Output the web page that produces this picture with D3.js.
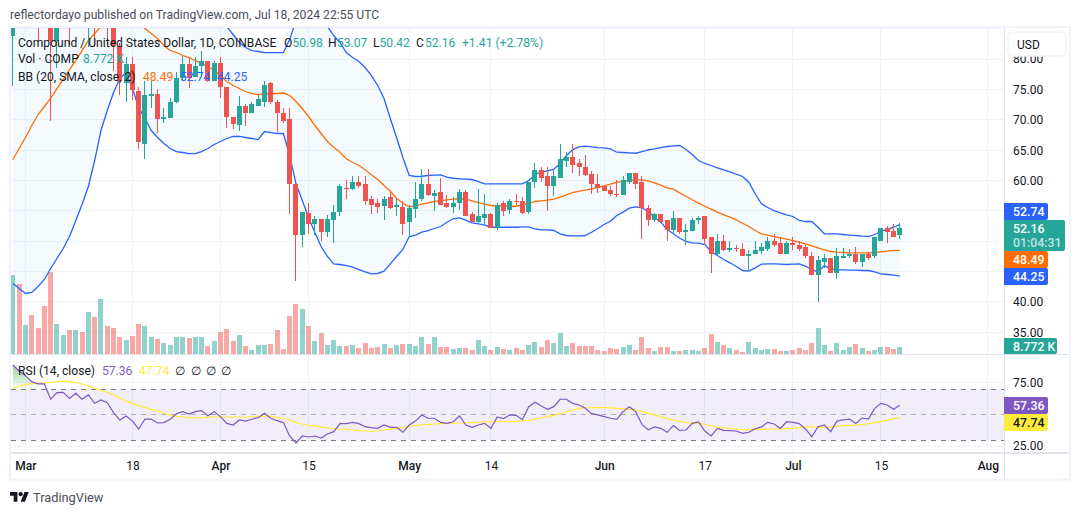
<!DOCTYPE html>
<html>
<head>
<meta charset="utf-8">
<title>Compound / United States Dollar</title>
<script src="https://cdn.jsdelivr.net/npm/d3@7/dist/d3.min.js"></script>
<style>
html,body{margin:0;padding:0;background:#fff;overflow:hidden}
svg{display:block}
text{font-family:Roboto,"Liberation Sans",sans-serif;fill:#131722}
</style>
</head>
<body>
<svg id="chart" width="1080" height="515"></svg>
<script>
// Daily COMP/USD candles, first session 28 Feb 2024, last 18 Jul 2024.
const opens = [
83.89,90,87,95,91,87,92,83.07,92,95,
90,93,90,96,91,101,95,82.13,75.99,79.12,
74.83,66.1,74.01,74.34,70.1,70.34,72.91,76.93,79.12,77.14,
78.79,79.77,76.37,79.33,75.49,70.55,69.23,72.2,71.09,72.36,
73.02,76.04,72.86,71.16,70.06,59.46,50.95,54.73,52.76,53.7,
51.6,53.58,54.78,58.85,58.64,59.68,59.35,56.88,56.22,55.77,
57.21,55.72,55.72,53.09,55.39,56.88,59.35,57.53,58.19,56.22,
55.72,56.22,58.19,54.41,53.09,53.91,54.41,52.26,56.22,55.23,
56.71,56.71,54.9,59.68,61.82,60.67,59.02,60.34,63.3,63.8,
62.81,62.31,61.16,59.35,59.02,58.52,57.86,57.7,59.84,61.32,
59.68,55.56,53.42,54.41,53.42,51.93,53.75,51.6,51.77,53.42,
54.08,50.78,47.82,49.96,48.64,48.97,48.8,47.49,47.82,48.47,
48.8,50.12,49.63,47.98,49.63,49.3,49.13,47.65,44.52,46.66,
47.32,44.85,47.32,47.49,47.98,46.5,47.98,47.49,50.12,52.26,
51.77,50.98];
const highs = [
88,92,97,98,96,92,95,94,100,98,
97,96,100,99,105,103,97,82.6,80.43,80.43,
75.33,76.48,76.32,75.16,72.03,73.52,77.85,80.6,80.22,80.32,
81.42,79.77,79.66,80.32,75.49,70.55,74.01,72.53,72.91,74.13,
76.32,76.2,73.19,71.98,71.98,59.46,54.9,56.33,54.24,53.7,
54.4,56.05,59.35,60.01,60.83,60.83,60.83,57.53,56.99,57.53,
58.24,56.88,56.71,55.89,59.84,61.98,61.98,58.52,60.34,57.7,
57.37,58.69,58.52,54.9,58.69,57.86,54.73,56.22,56.55,57.04,
57.86,57.21,59.84,62.97,62.31,62.15,61.82,65.94,64.78,65.94,
63.63,64.13,61.65,61.16,59.18,59.02,60.01,60.67,61.32,61.32,
60.67,56.05,54.73,54.57,53.58,55.06,53.91,52.92,53.91,54.24,
54.24,50.78,51.27,50.95,49.96,49.3,49.63,48.64,50.12,49.63,
50.62,51.27,50.78,49.96,50.78,49.96,49.3,48.31,47.65,47.82,
47.32,48.97,48.97,48.8,49.13,47.98,48.15,50.62,52.26,52.43,
52.92,53.07];
const lows = [
75.54,86,86,90,83,85.6,69.78,78.62,88,82.25,
86,85.05,81.92,81.92,87,81.92,78.13,74.17,72.86,73.19,
65.28,63.63,71.87,67.91,69.56,70.34,72.74,76.48,75.21,77.03,
77.03,76.2,76.37,73.63,68.62,68.52,68.13,68.95,71.09,72.36,
72.08,72.53,67.96,69.51,54.52,43.42,49.02,51.23,50.95,50.01,
50.67,49.68,54.24,56.99,58.47,58.74,55.89,54.52,54.62,53.58,
55.34,54.24,50.95,50.78,53.75,56.71,57.53,55.06,56.05,55.51,
54.73,55.23,54.08,53.09,53.04,52.59,52.26,51.93,54.24,54.57,
55.89,54.41,54.41,58.85,59.68,55.06,57.53,60.34,62.15,61.32,
60.67,60.83,57.86,58.03,58.36,57.53,57.37,57.7,59.35,58.69,
50.45,52.59,53.09,53.09,49.96,51.27,51.27,49.46,51.77,52.76,
49.3,44.85,47.65,48.47,48.15,48.15,47.49,45.02,47.82,47.98,
48.47,49.13,47.98,47.82,48.64,48.47,47.16,44.36,40.07,45.67,
44.69,43.7,47.16,47.16,46.33,45.84,46.99,47.32,50.12,49.63,
50.62,50.42];
const closes = [
86.37,87,95,91,87,86.5,83.07,92,95,90,
93,90,96,91,101,95,82.13,76.32,79.28,74.92,
66.43,74.17,74.29,70.17,70.55,72.86,76.93,79.12,76.93,78.95,
79.77,76.37,79.33,75.49,70.43,69.28,72.31,71.09,72.53,73.4,
75.82,72.91,71.09,69.89,59.46,50.95,54.9,52.76,53.7,51.6,
53.7,54.9,59.02,58.69,59.68,59.18,56.6,55.89,55.72,57.04,
55.51,55.89,52.92,55.56,57.04,59.35,57.7,58.03,56.05,55.72,
56.38,58.19,54.24,53.09,54.08,54.57,52.26,56.05,55.06,56.71,
56.55,54.73,59.84,61.82,60.5,59.18,60.67,63.63,63.8,62.64,
62.15,60.99,59.35,58.85,58.36,57.86,57.75,60.01,61.32,59.51,
55.56,53.42,54.41,53.25,51.93,53.91,51.6,51.93,53.58,53.91,
50.45,47.82,50.12,48.64,48.97,48.8,47.49,47.98,48.64,49.13,
50.12,49.3,47.98,49.63,49.3,48.8,47.49,44.52,46.83,47.32,
44.69,47.49,47.65,47.98,46.5,47.98,47.32,50.62,52.26,51.6,
50.62,52.16];

// Traded volume per session, in thousands of COMP.
const volumes = [
98.75,87.5,36.25,48.75,32.5,60,102.5,37.5,23.75,30,
30,27.5,52.5,46.25,68.75,35,32.5,21.25,17.5,22.5,
37.5,35,21.25,18.75,13.75,11.25,21.25,21.25,20,21.25,
21.25,10,16.25,27.5,31.25,16.25,23.75,10,5,11.25,
11.25,12.5,30,6.25,47.5,62.5,56.25,35,16.25,26.25,
11.25,17.5,10,10,11.25,7.5,13.75,7.5,8.75,12.5,
7.5,11.25,12.5,12.5,10,21.25,12.5,21.25,8.75,8.75,
6.25,7.5,7.5,5,17.5,10,5,8.75,6.25,5,
7.5,5,11.25,15,8.75,17.5,13.75,26.25,10,13.75,
10,10,10,5,3.75,7.5,6.25,8.75,11.25,5,
21.25,7.5,3.75,8.75,8.75,3.75,3.75,5,5,3.75,
7.5,25,15,11.25,7.5,5,2.5,15,7.5,5,
6.25,6.25,3.75,3.75,5,7.5,5,13.75,32.5,11.25,
3.75,13.75,5,8.75,12.5,7.5,3.75,5,8.75,8.75,
6.25,8.772];

// Bollinger bands (20, 2).
const bbUpper = [
84.88,88.01,90.48,92.95,95.43,97.9,99.54,101.19,102.02,102.84,
103.66,104.49,104.49,104.49,104.16,103.66,103.66,103.66,103.66,102.84,
101.19,99.54,97.9,96.25,94.93,93.78,92.95,92.13,91.31,90.48,
89.66,88.84,87.68,86.37,85.38,84.06,82.74,81.92,81.42,81.26,
81.09,81.09,81.09,81.09,83.24,86.37,88.84,88.84,89.66,88.84,
85.38,83.89,82.74,81.09,80.27,79.61,78.62,77.3,75.66,73.52,
70.22,67.09,63.8,60.83,60.67,60.71,60.83,60.88,60.95,60.55,
60.38,60.29,60.22,60.17,59.84,59.46,59.46,59.46,59.46,59.46,
59.46,59.46,60.01,60.95,61.44,61.6,61.87,62.86,64.13,65.11,
65.56,65.66,65.56,65.44,65.39,65.23,64.67,64.62,64.57,64.5,
64.78,65.06,65.23,65.44,65.61,65.72,65.77,65.11,64.29,63.3,
62.81,62.48,62.1,61.77,61.44,61.04,60.67,59.73,57.82,56.17,
55.56,55.06,54.69,54.36,54.08,53.42,53.25,53.25,52.31,51.23,
51.23,51.23,51.11,51,50.95,50.83,50.78,51.11,51.65,51.93,
52.31,52.74];
const bbBasis = [
63.47,65.28,67.09,69.07,70.88,72.2,73.52,75.16,76.65,78.29,
79.77,81.42,83.07,84.22,85.38,86.37,87.35,88.01,88.34,88.01,
85.87,85.05,84.22,83.4,82.25,81.42,81.09,80.6,80.27,79.77,
79.28,78.79,78.13,77.3,76.32,75.66,75.16,74.67,74.34,74.17,
74.26,74.34,74.34,74.42,74.01,73.02,71.87,70.55,69.07,67.75,
66.43,65.49,64.67,63.58,63.02,62.48,61.77,60.95,60.17,59.18,
58.24,57.09,56.27,55.67,55.84,56.1,56.33,56.55,56.71,56.83,
56.93,57,56.93,56.66,56.38,56.1,55.89,55.84,55.84,55.77,
55.77,55.94,56.22,56.55,56.66,56.76,56.93,57.26,57.65,58.03,
58.24,58.41,58.57,58.9,59.13,59.4,59.73,59.84,60.01,60.12,
60.12,59.96,59.63,59.23,58.8,58.57,57.98,57.42,56.83,56.27,
55.77,55.28,54.79,54.36,53.96,53.53,52.97,52.43,51.77,51.23,
51,50.78,50.57,50.34,50.12,49.84,49.58,49.25,48.92,48.59,
48.31,48.2,48.15,48.1,48.1,48.1,48.1,48.15,48.26,48.36,
48.47,48.49];
const bbLower = [
43.04,42.21,41.39,41.56,42.54,43.7,45.51,47.16,48.8,50.78,
53.42,56.05,59.02,63.3,68.24,71.54,74.5,76.81,77.8,75.16,
72.03,70.22,68.24,67.09,66.1,65.28,64.78,64.62,64.45,64.45,
64.78,65.28,65.94,66.43,66.93,67.26,67.26,67.09,66.93,66.76,
68.08,67.91,67.75,67.75,64.13,59.51,56.71,53.91,51.44,49.13,
47.49,46.28,46.17,46,45.72,45.34,44.97,44.64,44.69,45.07,
46.28,47.49,48.64,50.78,51,51.49,51.77,52.1,52.43,53.14,
53.7,53.86,53.47,53.04,52.87,52.64,52.31,52.31,52.31,52.31,
52.31,52.38,52.38,52.05,51.88,51.88,51.77,51.23,50.95,50.9,
50.9,50.95,51.49,52.1,52.76,53.3,54.24,54.79,55.44,55.67,
55.51,54.9,53.96,53.14,51.93,51.23,50.5,49.96,49.74,49.68,
49.46,48.31,47.65,46.99,46.45,45.84,45.18,45.07,45.62,46.22,
46.28,46.28,46.22,46.17,46.22,46.28,45.89,45.34,44.9,45.99,
45.46,45.3,45.3,45.23,45.23,45.18,45.18,44.97,44.64,44.52,
44.41,44.25];

// RSI (14, close) and its moving average.
const rsiValues = [
89,84.3,80.6,75.9,74.1,74.1,62.1,67.3,67.5,62.8,
66.8,62.1,65.5,58.9,61.5,59.4,51.6,45.9,49,45,
38.8,46.6,46.6,43.5,43.8,46.4,50.8,52.4,50.5,52.4,
53.2,49.2,52.4,48.5,43.2,41.9,45.9,45,46.4,47.7,
51.1,47.2,45.3,43.8,33.3,27.8,33.3,32.5,33.3,31.7,
34.9,36.7,43,43,44,43,40.6,39.8,39.3,41.9,
40.1,40.1,36.2,41.9,45,49.8,47.2,47.2,44,43.2,
44.5,49,41.9,40.1,41.9,43.2,39.3,48.2,46.9,49.8,
49.5,46.1,56.3,59.7,56.8,54.2,56.3,62.1,62.1,58.9,
57.6,55,50.8,49.8,48.5,47.2,46.4,52.4,56.3,52.4,
42.4,38.2,40.4,39.3,36.2,41.4,37.7,38,43.2,44.3,
37.2,33.3,39.3,37.7,37.5,37.2,35.4,36.2,39,40.4,
44,42.7,39.3,44.5,44,43,38.8,32.8,40.6,41.9,
36.7,45,45.9,46.6,43.2,47.4,46.6,55,58.9,57.6,
54.2,57.36];
const rsiMa = [
70.7,72.3,73.8,74.3,74.6,74.9,75.1,75.9,76.4,75.9,
75.1,74.1,72.5,70.7,69.1,67.5,65.5,63.1,60.8,58.9,
57.1,55.8,54.2,52.9,51.3,49.8,48.7,48.2,47.7,47.4,
47.7,47.9,48.2,48.2,48.2,48.2,48.2,48.2,48.5,48.7,
49,48.7,47.9,47.2,45.9,44,42.7,41.7,41.2,40.4,
39.6,39,38.8,38.5,38,37.5,37.2,36.9,37.2,38,
38.8,39.3,39.8,40.9,41.4,42.2,42.4,42.7,43,43.2,
43.2,43.5,43.5,43.8,44,44.3,44.5,44.8,44.8,44.8,
44.8,45.1,45.6,46.6,47.4,48.5,49.5,50.8,52.1,53.4,
54.7,55.5,55.5,55.5,55.5,55.3,55,54.7,54.2,53.7,
52.6,51.1,49.8,48.5,46.9,45.9,44.8,44,43.2,43.2,
42.4,41.2,40.1,39.6,39.3,38.8,38.3,38.3,38.5,38.5,
38.5,38.8,38.8,39,39.3,39.8,40.4,40.4,40.1,40.1,
40.4,40.9,41.4,41.7,41.9,42.2,43,43.8,44.8,45.6,
46.9,47.74];

const priceTicks = [35,40,60,65,70,75,80];
const priceGrid = [35,40,45,50,55,60,65,70,75,80,85];
const rsiTicks = [75,25];
const timeTicks = [
  ["2024-03-01","Mar"],["2024-03-18","18"],["2024-04-01","Apr"],["2024-04-15","15"],
  ["2024-05-01","May"],["2024-05-14","14"],["2024-06-01","Jun"],["2024-06-17","17"],
  ["2024-07-01","Jul"],["2024-07-15","15"],["2024-08-01","Aug"]
];

const UP = "#26a69a", DOWN = "#ef5350", BLUE = "#2962ff", ORANGE = "#ff6d00",
      PURPLE = "#7e57c2", YELLOW = "#ffeb3b", GRID = "#f0f3fa", LINE = "#e0e3eb", INK = "#131722";

const dates = d3.utcDay.range(new Date(Date.UTC(2024,1,28)), new Date(Date.UTC(2024,6,19)));
const bars = dates.map((date,i)=>({date,o:opens[i],h:highs[i],l:lows[i],c:closes[i],v:volumes[i],
  up:bbUpper[i],mid:bbBasis[i],low:bbLower[i],rsi:rsiValues[i],ma:rsiMa[i]}));

// Pane layout
const left = 11, right = 1004, mainTop = 28, mainBottom = 354, rsiTop = 355, rsiBottom = 452, timeBottom = 479;

const x = d3.scaleUtc().domain([dates[0], new Date(Date.UTC(2024,7,1))]).range([12.9, 987.9]);
const y = d3.scaleLinear().domain([35,75]).range([332.3,89.5]);
const yVol = d3.scaleLinear().domain([0,102.5]).range([354,272]);
const yRsi = d3.scaleLinear().domain([30,70]).range([440.2,389.2]);
const px = v => Math.floor(v);

const svg = d3.select("#chart");
const defs = svg.append("defs");
defs.append("clipPath").attr("id","clip-main").append("rect")
  .attr("x",left).attr("y",mainTop).attr("width",right-left).attr("height",mainBottom-mainTop);
defs.append("clipPath").attr("id","clip-rsi").append("rect")
  .attr("x",left).attr("y",rsiTop).attr("width",right-left).attr("height",rsiBottom-rsiTop);
defs.append("clipPath").attr("id","clip-ob").append("rect")
  .attr("x",left).attr("y",rsiTop).attr("width",right-left).attr("height",yRsi(70)-rsiTop);
defs.append("clipPath").attr("id","clip-os").append("rect")
  .attr("x",left).attr("y",yRsi(30)).attr("width",right-left).attr("height",rsiBottom-yRsi(30));
const gradOb = defs.append("linearGradient").attr("id","grad-ob").attr("gradientUnits","userSpaceOnUse")
  .attr("x1",0).attr("x2",0).attr("y1",yRsi(90)).attr("y2",yRsi(70));
gradOb.append("stop").attr("offset",0).attr("stop-color","#4caf50").attr("stop-opacity",0.6);
gradOb.append("stop").attr("offset",1).attr("stop-color","#4caf50").attr("stop-opacity",0);
const gradOs = defs.append("linearGradient").attr("id","grad-os").attr("gradientUnits","userSpaceOnUse")
  .attr("x1",0).attr("x2",0).attr("y1",yRsi(30)).attr("y2",yRsi(20));
gradOs.append("stop").attr("offset",0).attr("stop-color","#f23645").attr("stop-opacity",0);
gradOs.append("stop").attr("offset",1).attr("stop-color","#f23645").attr("stop-opacity",0.6);

// Header line
svg.append("text").attr("x",10).attr("y",19).attr("font-size",12.15).style("fill","#4a4e5a")
  .text("reflectordayo published on TradingView.com, Jul 18, 2024 22:55 UTC");

// Outer frame
svg.append("rect").attr("x",10).attr("y",27).attr("width",1060).attr("height",452.5)
  .attr("fill","#fff").attr("stroke",GRID).attr("stroke-width",2);

// Grid for both panes
const gridV = svg.append("g").attr("shape-rendering","crispEdges");
timeTicks.forEach(([d])=>{
  const gx = px(x(new Date(d+"T00:00:00Z")))+0.5;
  gridV.append("line").attr("x1",gx).attr("x2",gx).attr("y1",mainTop).attr("y2",rsiBottom).attr("stroke",GRID);
});
priceGrid.forEach(p=>{
  const gy = px(y(p))+0.5;
  gridV.append("line").attr("x1",left).attr("x2",right).attr("y1",gy).attr("y2",gy).attr("stroke",GRID);
});
rsiTicks.forEach(r=>{
  const gy = px(yRsi(r))+0.5;
  gridV.append("line").attr("x1",left).attr("x2",right).attr("y1",gy).attr("y2",gy).attr("stroke",GRID);
});

// Main pane: volume, bands, candles
const main = svg.append("g").attr("clip-path","url(#clip-main)");
main.append("g").attr("shape-rendering","crispEdges").selectAll("rect").data(bars).join("rect")
  .attr("x",d=>px(x(d.date))-2).attr("width",5)
  .attr("y",d=>Math.round(yVol(d.v))).attr("height",d=>mainBottom-Math.round(yVol(d.v)))
  .attr("fill",d=>d.c>=d.o?UP:DOWN).attr("fill-opacity",0.5);

main.append("path").datum(bars).attr("fill","#2196f3").attr("fill-opacity",0.05)
  .attr("d",d3.area().x(d=>x(d.date)).y0(d=>y(d.low)).y1(d=>y(d.up)));
const bandLine = key => d3.line().x(d=>x(d.date)).y(d=>y(d[key]));
main.append("path").datum(bars).attr("fill","none").attr("stroke",BLUE).attr("stroke-width",1.3).attr("d",bandLine("up"));
main.append("path").datum(bars).attr("fill","none").attr("stroke",BLUE).attr("stroke-width",1.3).attr("d",bandLine("low"));
main.append("path").datum(bars).attr("fill","none").attr("stroke",ORANGE).attr("stroke-width",1.3).attr("d",bandLine("mid"));

const candles = main.append("g").attr("shape-rendering","crispEdges");
candles.selectAll("rect.wick").data(bars).join("rect").attr("class","wick")
  .attr("x",d=>px(x(d.date))).attr("width",1)
  .attr("y",d=>Math.round(y(d.h))).attr("height",d=>Math.max(1,Math.round(y(d.l))-Math.round(y(d.h))))
  .attr("fill",d=>d.c>=d.o?UP:DOWN);
candles.selectAll("rect.body").data(bars).join("rect").attr("class","body")
  .attr("x",d=>px(x(d.date))-2).attr("width",5)
  .attr("y",d=>Math.round(y(Math.max(d.o,d.c))))
  .attr("height",d=>Math.max(1,Math.round(y(Math.min(d.o,d.c)))-Math.round(y(Math.max(d.o,d.c)))))
  .attr("fill",d=>d.c>=d.o?UP:DOWN);

// RSI pane
const rsiPane = svg.append("g").attr("clip-path","url(#clip-rsi)");
rsiPane.append("rect").attr("x",left).attr("width",right-left)
  .attr("y",yRsi(70)).attr("height",yRsi(30)-yRsi(70)).attr("fill",PURPLE).attr("fill-opacity",0.1);
[[70,1],[50,0.55],[30,1]].forEach(([lvl,op])=>{
  rsiPane.append("line").attr("x1",left).attr("x2",right).attr("y1",px(yRsi(lvl))+0.5).attr("y2",px(yRsi(lvl))+0.5)
    .attr("stroke","#787b86").attr("stroke-opacity",op).attr("stroke-dasharray","5,5").attr("shape-rendering","crispEdges");
});
rsiPane.append("path").datum(bars).attr("fill","url(#grad-ob)").attr("clip-path","url(#clip-ob)")
  .attr("d",d3.area().x(d=>x(d.date)).y0(yRsi(70)).y1(d=>yRsi(d.rsi)));
rsiPane.append("path").datum(bars).attr("fill","url(#grad-os)").attr("clip-path","url(#clip-os)")
  .attr("d",d3.area().x(d=>x(d.date)).y0(yRsi(30)).y1(d=>yRsi(d.rsi)));
rsiPane.append("path").datum(bars).attr("fill","none").attr("stroke",YELLOW).attr("stroke-width",1.2)
  .attr("d",d3.line().x(d=>x(d.date)).y(d=>yRsi(d.ma)));
rsiPane.append("path").datum(bars).attr("fill","none").attr("stroke",PURPLE).attr("stroke-width",1.2)
  .attr("d",d3.line().x(d=>x(d.date)).y(d=>yRsi(d.rsi)));

// Pane separators and scale border
const rules = svg.append("g").attr("shape-rendering","crispEdges").attr("stroke",LINE);
rules.append("line").attr("x1",right+0.5).attr("x2",right+0.5).attr("y1",mainTop).attr("y2",timeBottom);
rules.append("line").attr("x1",left).attr("x2",1069).attr("y1",354.5).attr("y2",354.5);
rules.append("line").attr("x1",left).attr("x2",1069).attr("y1",452.5).attr("y2",452.5).attr("stroke-width",2);

// Axes
function styleAxis(g){
  g.select(".domain").remove();
  g.selectAll(".tick line").remove();
  g.selectAll("text").attr("font-size",12).attr("font-family",null).style("fill",INK);
}
const axisPrice = svg.append("g").attr("transform","translate(1004,0)").attr("font-family",null)
  .call(d3.axisRight(y).tickValues(priceTicks).tickFormat(d3.format(".2f")).tickSize(0).tickPadding(9));
styleAxis(axisPrice);
const axisRsi = svg.append("g").attr("transform","translate(1004,0)").attr("font-family",null)
  .call(d3.axisRight(yRsi).tickValues(rsiTicks).tickFormat(d3.format(".2f")).tickSize(0).tickPadding(9));
styleAxis(axisRsi);
axisRsi.selectAll(".tick text").attr("dy",d=>d===25?"0.22em":"0.32em");

const tickMap = new Map(timeTicks.map(([d,l])=>[+new Date(d+"T00:00:00Z"),l]));
const axisTime = svg.append("g").attr("transform","translate(0,453)").attr("font-family",null)
  .call(d3.axisBottom(x).tickValues(timeTicks.map(([d])=>new Date(d+"T00:00:00Z")))
    .tickFormat(d=>tickMap.get(+d)).tickSize(0).tickPadding(8));
styleAxis(axisTime);
axisTime.selectAll(".tick text").attr("font-weight",function(){return /^[A-Z]/.test(this.textContent)?500:400;});

// Currency button
svg.append("rect").attr("x",1008).attr("y",32).attr("width",58).attr("height",24).attr("rx",5)
  .attr("fill","#fff").attr("stroke",GRID).attr("stroke-width",1.6);
svg.append("text").attr("x",1017).attr("y",48.5).attr("font-size",12).text("USD");

// Last-value badges on the scales
function badge(top,h,w,fill,lines,textFill){
  const g = svg.append("g");
  g.append("path").attr("fill",fill)
    .attr("d",`M1004,${top}h${w-2}a2,2 0 0 1 2,2v${h-4}a2,2 0 0 1 -2,2h${-(w-2)}z`);
  lines.forEach((t,i)=>{
    g.append("text").attr("x",1013).attr("y",top+13+i*14.4).attr("font-size",12.3).attr("font-weight",500)
      .style("fill",textFill[i]).text(t);
  });
}
const fmt = d3.format(".2f"), last = bars[bars.length-1];
const lastTop = Math.round(y(last.c))-8;
badge(lastTop-17,17,44,BLUE,[fmt(last.up)],["#fff"]);
badge(lastTop,31,61,UP,[fmt(last.c),"01:04:31"],["#fff","#bfe4e0"]);
badge(lastTop+31,17,44,ORANGE,[fmt(last.mid)],["#fff"]);
badge(lastTop+48,17,44,BLUE,[fmt(last.low)],["#fff"]);
badge(mainBottom-16,16,53,UP,[last.v.toFixed(3)+" K"],["#fff"]);
const rsiBadgeTop = Math.round(yRsi(last.rsi))-8;
badge(rsiBadgeTop,17,44,PURPLE,[fmt(last.rsi)],["#fff"]);
badge(rsiBadgeTop+17,17,44,YELLOW,[fmt(last.ma)],[INK]);

// Legends
const legend = (items)=>items.forEach(([tx,ty,t,c])=>{
  svg.append("text").attr("x",tx).attr("y",ty).attr("font-size",12.1).style("fill",c).text(t);
});
legend([
  [18,46.5,"Compound / United States Dollar, 1D, COINBASE",INK],
  [284,46.5,"O",INK],[292.5,46.5,fmt(last.o),UP],
  [328,46.5,"H",INK],[337,46.5,fmt(last.h),UP],
  [373,46.5,"L",INK],[379.5,46.5,fmt(last.l),UP],
  [416,46.5,"C",INK],[425,46.5,fmt(last.c),UP],
  [462,46.5,"+1.41 (+2.78%)",UP],
  [18,63,"Vol · COMP",INK],[83,63,last.v.toFixed(3)+" K",UP],
  [18,80.5,"BB (20, SMA, close, 2)",INK],[143,80.5,fmt(last.mid),ORANGE],[180,80.5,fmt(last.up),BLUE],[217,80.5,fmt(last.low),BLUE],
  [18,374.5,"RSI (14, close)",INK],[102,374.5,fmt(last.rsi),PURPLE],[139,374.5,fmt(last.ma),YELLOW],
  [175,374.5,"∅",INK],[191,374.5,"∅",INK],[206,374.5,"∅",INK],[221,374.5,"∅",INK]
]);

// Brand mark
const brand = svg.append("g").attr("transform","translate(10,490) scale(0.53)").attr("fill",INK);
brand.append("path").attr("d","M14 22H7V11H0V4h14v18zM28 22h-8l7.5-18h8L28 22z");
brand.append("circle").attr("cx",20).attr("cy",8).attr("r",4);
svg.append("text").attr("x",33).attr("y",502).attr("font-size",12.8).style("fill","#4a4e5a").text("TradingView");
</script>
</body>
</html>
